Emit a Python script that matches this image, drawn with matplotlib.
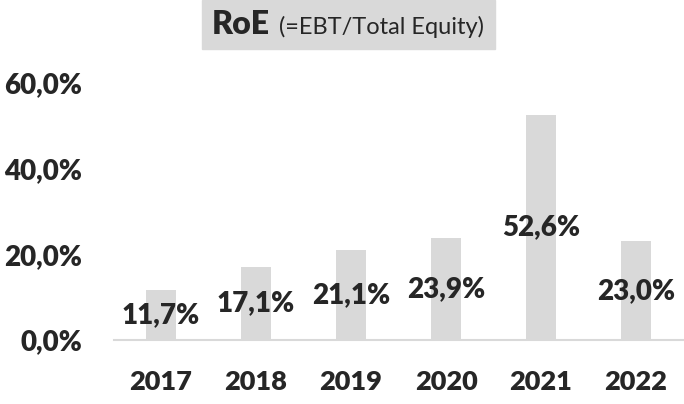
import matplotlib.pyplot as plt
from matplotlib.patches import Rectangle

years = ['2017', '2018', '2019', '2020', '2021', '2022']
roe = [11.7, 17.1, 21.1, 23.9, 52.6, 23.0]
yticks = [0, 20, 40, 60]

text_col = '#262626'
grey = '#d9d9d9'
plt.rcParams['font.family'] = ['Lato', 'DejaVu Sans']
bold = 'heavy'

W, H = 684, 404
fig = plt.figure(figsize=(W / 100, H / 100), dpi=100)
ax = fig.add_axes([113.5 / W, (H - 340) / H, 570 / W, (340 - 83) / H])

x = range(len(years))
ax.bar(x, roe, width=0.32, color=grey, zorder=2)
ax.set_xlim(-0.5, len(years) - 0.5)
ax.set_ylim(0, 60)

# value labels in the middle of the bars
for i, v in zip(x, roe):
    ax.text(i, v / 2, f'{v:.1f}%'.replace('.', ','), ha='center', va='center',
            fontsize=20, fontweight=bold, color=text_col, zorder=3)

ax.set_xticks(list(x))
ax.set_xticklabels(years, fontsize=19.5, fontweight=bold, color=text_col)
ax.set_yticks(yticks)
ax.set_yticklabels([f'{t:.1f}%'.replace('.', ',') for t in yticks],
                   fontsize=20, fontweight=bold, color=text_col)
ax.tick_params(length=0)
ax.tick_params(axis='x', pad=21.5)
ax.tick_params(axis='y', pad=22.5)

for s in ['top', 'right', 'left']:
    ax.spines[s].set_visible(False)
ax.spines['bottom'].set_color(grey)
ax.spines['bottom'].set_linewidth(1.5)

# title box
fig.patches.append(Rectangle((202 / W, 1 - 49 / H), 293 / W, 49 / H,
                             transform=fig.transFigure, color=grey, zorder=0))
fig.text(212 / W, 1 - 34 / H, 'RoE', fontsize=23, fontweight=bold,
         color=text_col, va='baseline', ha='left')
fig.text(279 / W, 1 - 34 / H, '(=EBT/Total Equity)', fontsize=17,
         color=text_col, va='baseline', ha='left')

fig.savefig('out.png', dpi=100)
